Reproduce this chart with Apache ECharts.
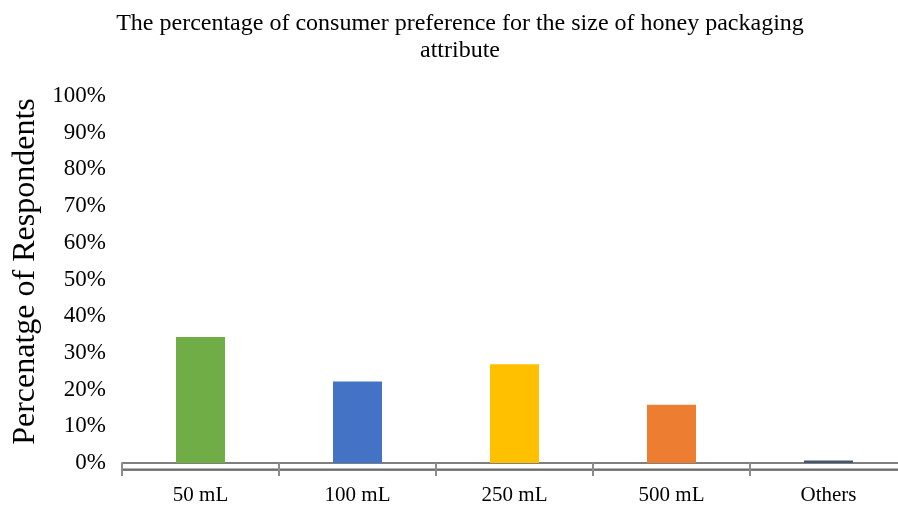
<!DOCTYPE html>
<html>
<head>
<meta charset="utf-8">
<script src="https://cdn.jsdelivr.net/npm/echarts@6/dist/echarts.min.js"></script>
<style>
  html, body { margin: 0; padding: 0; background: #ffffff; }
  #chart { width: 898px; height: 506px; }
</style>
</head>
<body>
<div id="chart"></div>
<script>
// Packaging sizes and share of respondents preferring each (%)
const categories = ['50 mL', '100 mL', '250 mL', '500 mL', 'Others'];
const shares = [34.3, 22.2, 26.9, 15.9, 0.7];
const barColors = ['#70AD47', '#4472C4', '#FFC000', '#ED7D31', '#44546A'];

const serif = '"Liberation Serif", "Times New Roman", serif';

// Helper for the extra axes that only draw the double rule under the bars
function ruleAxis(offset, color, width) {
  return {
    type: 'category',
    position: 'bottom',
    data: categories,
    offset: offset,
    axisLine: { show: true, lineStyle: { color: color, width: width } },
    axisTick: { show: false },
    axisLabel: { show: false },
    splitLine: { show: false }
  };
}

const chart = echarts.init(document.getElementById('chart'));
chart.setOption({
  animation: false,
  backgroundColor: '#ffffff',
  title: {
    text: 'The percentage of consumer preference for the size of honey packaging\nattribute',
    left: 455,
    textAlign: 'center',
    top: 5,
    textStyle: {
      fontFamily: serif,
      fontWeight: 'normal',
      fontSize: 24,
      lineHeight: 27,
      color: '#000'
    }
  },
  grid: { left: 122, right: -9, top: 96, bottom: 43, containLabel: false, outerBoundsMode: 'none' },
  xAxis: [
    {
      type: 'category',
      position: 'bottom',
      data: categories,
      offset: 4,
      axisLine: { show: true, lineStyle: { color: '#555555', width: 1.5 } },
      axisTick: { show: true, length: 13, lineStyle: { color: '#8c8c8c', width: 2 } },
      axisLabel: {
        fontFamily: serif,
        fontSize: 21,
        color: '#000',
        margin: 18
      }
    },
    ruleAxis(5.5, '#b4b4b4', 2),
    ruleAxis(7, '#555555', 1.5)
  ],
  yAxis: {
    type: 'value',
    min: 0,
    max: 100,
    interval: 10,
    name: 'Percenatge of Respondents',
    nameLocation: 'middle',
    nameGap: 80,
    nameTextStyle: { fontFamily: serif, fontSize: 32, color: '#000', padding: [0, 0, 0, 16] },
    axisLine: { show: false },
    axisTick: { show: false },
    splitLine: { show: false },
    axisLabel: {
      formatter: '{value}%',
      fontFamily: serif,
      fontSize: 23,
      color: '#000',
      margin: 16
    }
  },
  series: [{
    type: 'bar',
    xAxisIndex: 0,
    barWidth: 49,
    data: shares.map((v, i) => ({
      value: v,
      itemStyle: { color: barColors[i] }
    }))
  }]
});
</script>
</body>
</html>
